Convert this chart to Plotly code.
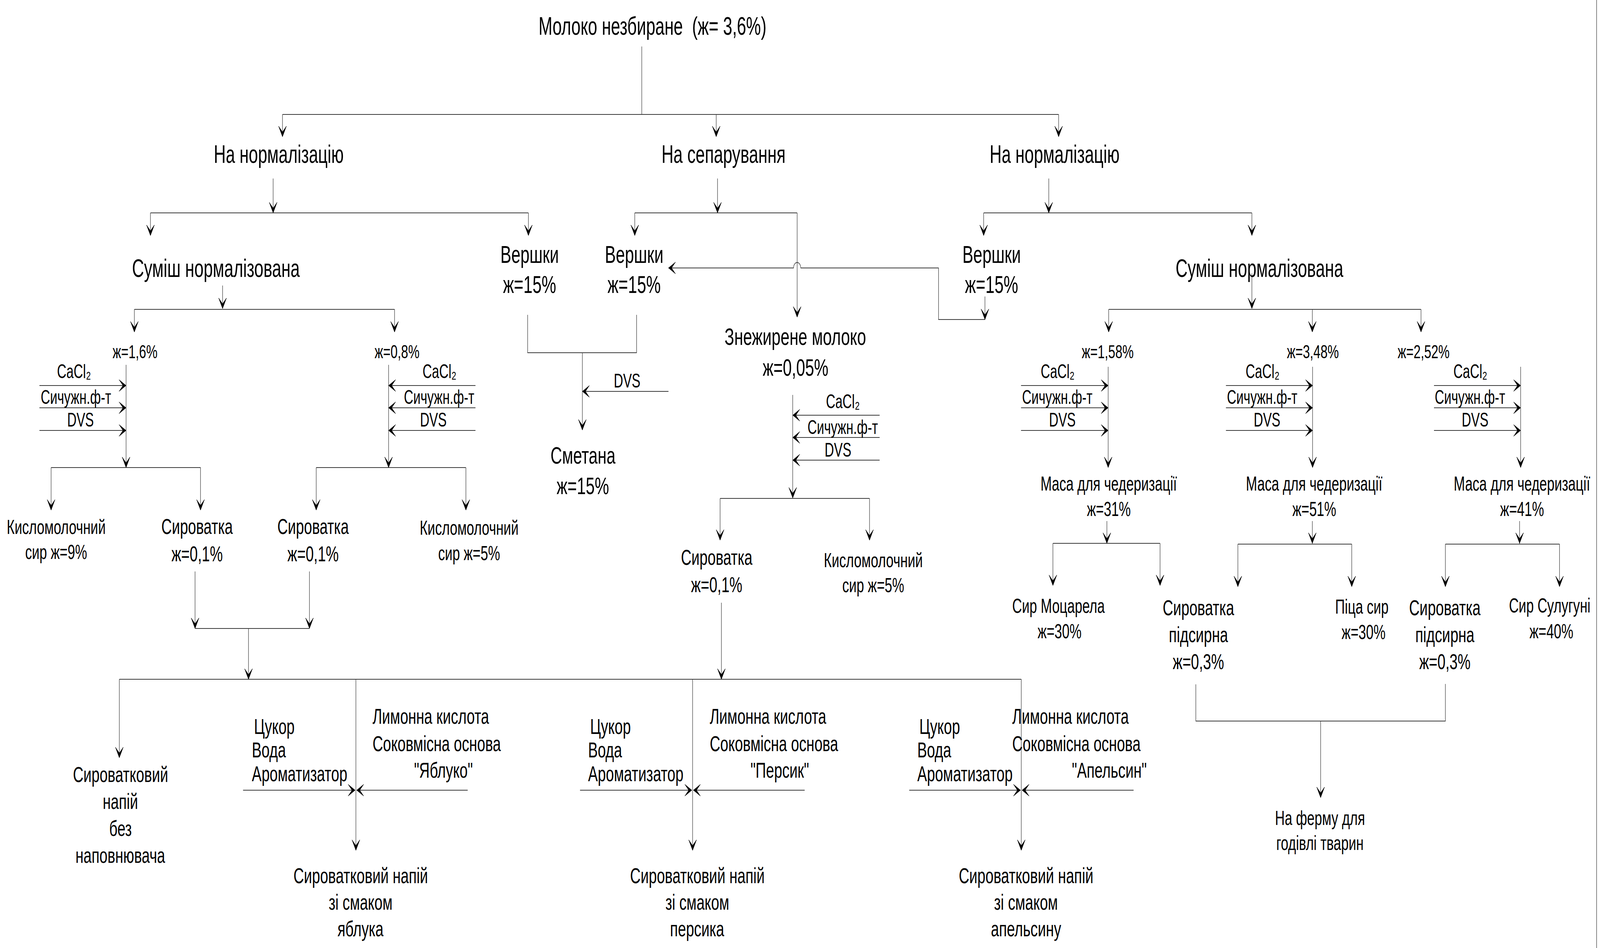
import numpy as np
import plotly.graph_objects as go

# reference canvas (pixels)
W, H = 6168, 2427
FONT = "Liberation Sans, Arial, DejaVu Sans, sans-serif"

# ---------------- labels (data) ----------------
title = ["Молоко незбиране\u00a0 (ж= 3,6%)"]
level1 = ["На нормалізацію", "На сепарування", "На нормалізацію"]
level2 = ["Суміш нормалізована", "Вершки", "ж=15%", "Вершки", "ж=15%",
          "Вершки", "ж=15%", "Суміш нормалізована", "Знежирене молоко", "ж=0,05%",
          "Сметана", "ж=15%"]
fat_split = ["ж=1,6%", "ж=0,8%", "ж=1,58%", "ж=3,48%", "ж=2,52%"]
additives = ["CaCl\u2082", "Сичужн.ф-т", "DVS"]
products = ["Кисломолочний", "сир ж=9%", "Сироватка", "ж=0,1%", "Сироватка", "ж=0,1%",
            "Кисломолочний", "сир ж=5%", "Сироватка", "ж=0,1%", "Кисломолочний", "сир ж=5%",
            "Маса для чедеризації", "ж=31%", "Маса для чедеризації", "ж=51%",
            "Маса для чедеризації", "ж=41%",
            "Сир Моцарела", "ж=30%", "Сироватка", "підсирна", "ж=0,3%",
            "Піца сир", "ж=30%", "Сироватка", "підсирна", "ж=0,3%", "Сир Сулугуні", "ж=40%",
            "На ферму для", "годівлі тварин"]
drinks = ["Сироватковий", "напій", "без", "наповнювача",
          "Сироватковий напій", "зі смаком", "яблука",
          "Сироватковий напій", "зі смаком", "персика",
          "Сироватковий напій", "зі смаком", "апельсину"]
sweet = ["Цукор", "Вода", "Ароматизатор"]
juice_lines = ["Лимонна кислота", "Соковмісна основа"]
flavours = ['"Яблуко"', '"Персик"', '"Апельсин"']
extra_dvs = ["DVS"]

# ---------------- layout positions (reference pixel space) ----------------
title_pos = [(2515, 67, 64)]
level1_pos = [(1074, 395, 64), (2789, 395, 64), (4065, 395, 64)]
level2_pos = [(832, 687, 64), (2041, 651, 63), (2041, 728, 63), (2444, 651, 63), (2444, 728, 63),
              (3822, 651, 63), (3822, 728, 63), (4855, 687, 64), (3066, 861, 62), (3066, 940, 62),
              (2247, 1165, 62), (2247, 1243, 62)]
fat_pos = [(520, 900, 49), (1530, 900, 49), (4270, 900, 49), (5061, 900, 49), (5488, 900, 49)]
add_groups = [(285, 292, 310, 951), (1694, 1692, 1670, 951), (3249, 3248, 3230, 1028),
              (4077, 4075, 4095, 951), (4867, 4865, 4884, 951), (5668, 5666, 5686, 951)]
add_dy = [0, 66, 124]
prod_pos = [(216, 1349, 52), (216, 1413, 52), (760, 1347, 56), (760, 1417, 56),
            (1207, 1347, 56), (1207, 1417, 56),
            (1808, 1351, 52), (1808, 1416, 52), (2763, 1426, 56), (2763, 1496, 56),
            (3366, 1434, 52), (3366, 1498, 52),
            (4274, 1238, 52), (4274, 1303, 52), (5066, 1238, 52), (5066, 1303, 52),
            (5867, 1238, 52), (5867, 1303, 52),
            (4080, 1551, 52), (4084, 1616, 52), (4620, 1555, 56), (4620, 1624, 56), (4620, 1693, 56),
            (5250, 1553, 52), (5256, 1618, 52), (5570, 1555, 56), (5570, 1624, 56), (5570, 1693, 56),
            (5974, 1550, 52), (5980, 1616, 52),
            (5088, 2094, 52), (5088, 2158, 52)]
drink_pos = [(464, 1982, 56), (464, 2051, 56), (464, 2120, 56), (464, 2189, 56),
             (1390, 2241, 56), (1390, 2309, 56), (1390, 2377, 56),
             (2688, 2241, 56), (2688, 2309, 56), (2688, 2377, 56),
             (3955, 2241, 56), (3955, 2309, 56), (3955, 2377, 56)]
sweet_left = [969, 2265, 3534]
sweet_y = [1859, 1919, 1980]
juice_left = [1434, 2734, 3900]
juice_y = [1833, 1903]
flavour_pos = [(1709, 1971), (3006, 1971), (4276, 1971)]
extra_dvs_pos = [(2417, 975, 50)]

# ---------------- connectors ----------------
hop = [(3073 + 14 * np.cos(t), 686 - 14 * np.sin(t)) for t in np.linspace(0, np.pi, 13)]
polylines = [
    [(2474, 119), (2474, 293)], [(1089, 293), (4081, 293)],
    [(1089, 293), (1089, 350)], [(2761, 293), (2761, 350)], [(4081, 293), (4081, 350)],
    [(1053, 457), (1053, 545)], [(580, 545), (2037, 545)],
    [(580, 545), (580, 603)], [(2037, 545), (2037, 603)],
    [(2766, 457), (2766, 545)], [(2447, 545), (3073, 545)], [(2447, 545), (2447, 603)],
    [(3073, 545), (3073, 812)],
    [(4043, 457), (4043, 545)], [(3792, 545), (4826, 545)],
    [(3792, 545), (3792, 603)], [(4826, 545), (4826, 603)],
    [(3797, 759), (3797, 818), (3618, 818), (3618, 686)] + hop + [(2577, 686)],
    [(2034, 806), (2034, 903), (2454, 903), (2454, 806)], [(2245, 903), (2245, 1101)],
    [(2577, 1002), (2245, 1002)],
    [(858, 731), (858, 790)], [(518, 792), (1521, 792)],
    [(518, 792), (518, 850)], [(1521, 792), (1521, 850)],
    [(486, 934), (486, 1197)], [(197, 1197), (773, 1197)],
    [(197, 1197), (197, 1306)], [(773, 1197), (773, 1306)],
    [(1498, 934), (1498, 1197)], [(1219, 1197), (1796, 1197)],
    [(1219, 1197), (1219, 1306)], [(1796, 1197), (1796, 1306)],
    [(752, 1463), (752, 1609)], [(1193, 1463), (1193, 1609)], [(752, 1609), (1193, 1609)],
    [(958, 1609), (958, 1739)],
    [(460, 1739), (3937, 1739)], [(2781, 1543), (2781, 1739)],
    [(460, 1739), (460, 1940)], [(1372, 1739), (1372, 2177)],
    [(2670, 1739), (2670, 2177)], [(3937, 1739), (3937, 2177)],
    [(937, 2023), (1369, 2023)], [(1803, 2023), (1375, 2023)],
    [(2236, 2023), (2667, 2023)], [(3102, 2023), (2673, 2023)],
    [(3505, 2023), (3934, 2023)], [(4370, 2023), (3940, 2023)],
    [(3056, 1011), (3056, 1275)], [(2776, 1276), (3352, 1276)],
    [(2776, 1276), (2776, 1383)], [(3352, 1276), (3352, 1383)],
    [(4826, 700), (4826, 790)], [(4274, 792), (5478, 792)],
    [(4274, 792), (4274, 850)], [(5059, 792), (5059, 850)], [(5478, 792), (5478, 850)],
    [(4272, 939), (4272, 1197)], [(4267, 1334), (4267, 1391)], [(4059, 1391), (4472, 1391)],
    [(4059, 1391), (4059, 1499)], [(4472, 1391), (4472, 1499)],
    [(5060, 939), (5060, 1197)], [(5059, 1334), (5059, 1393)], [(4772, 1393), (5211, 1393)],
    [(4772, 1393), (4772, 1502)], [(5211, 1393), (5211, 1502)],
    [(5862, 939), (5862, 1197)], [(5858, 1334), (5858, 1393)], [(5572, 1393), (6012, 1393)],
    [(5572, 1393), (5572, 1502)], [(6012, 1393), (6012, 1502)],
    [(4610, 1752), (4610, 1846), (5572, 1846), (5572, 1751)], [(5091, 1846), (5091, 2042)],
    [(6155, 0), (6155, H)],
]
add_y = [987, 1044, 1102]
add_y_mid = [1063, 1120, 1178]
for (x0, x1) in [(152, 486), (1833, 1498), (3936, 4272), (4726, 5060), (5528, 5862)]:
    for yy in add_y:
        polylines.append([(x0, yy), (x1, yy)])
for yy in add_y_mid:
    polylines.append([(3391, yy), (3056, yy)])

arrows = [(1089, 350, "d"), (2761, 350, "d"), (4081, 350, "d"),
          (1053, 545, "d"), (580, 603, "d"), (2037, 603, "d"),
          (2766, 545, "d"), (2447, 603, "d"), (3073, 812, "d"),
          (4043, 545, "d"), (3792, 603, "d"), (4826, 603, "d"),
          (3797, 818, "d"), (2577, 686, "l"),
          (2245, 1101, "d"), (2245, 1002, "l"),
          (858, 790, "d"), (518, 850, "d"), (1521, 850, "d"),
          (486, 1197, "d"), (197, 1306, "d"), (773, 1306, "d"),
          (1498, 1197, "d"), (1219, 1306, "d"), (1796, 1306, "d"),
          (752, 1609, "d"), (1193, 1609, "d"), (958, 1739, "d"), (2781, 1739, "d"),
          (460, 1940, "d"), (1372, 2177, "d"), (2670, 2177, "d"), (3937, 2177, "d"),
          (1369, 2023, "r"), (1375, 2023, "l"), (2667, 2023, "r"), (2673, 2023, "l"),
          (3934, 2023, "r"), (3940, 2023, "l"),
          (3056, 1275, "d"), (2776, 1383, "d"), (3352, 1383, "d"),
          (4826, 790, "d"), (4274, 850, "d"), (5059, 850, "d"), (5478, 850, "d"),
          (4272, 1197, "d"), (4267, 1391, "d"), (4059, 1499, "d"), (4472, 1499, "d"),
          (5060, 1197, "d"), (5059, 1391, "d"), (4772, 1502, "d"), (5211, 1502, "d"),
          (5862, 1197, "d"), (5858, 1391, "d"), (5572, 1502, "d"), (6012, 1502, "d"),
          (5091, 2042, "d")]
for yy in add_y:
    arrows += [(486, yy, "r"), (1498, yy, "l"), (4272, yy, "r"), (5060, yy, "r"), (5862, yy, "r")]
for yy in add_y_mid:
    arrows.append((3056, yy, "l"))

# ---------------- build figure ----------------
lx, ly = [], []
for pl in polylines:
    for (px, py) in pl:
        lx.append(px); ly.append(py)
    lx.append(None); ly.append(None)

DIRS = {"d": (0, 1), "u": (0, -1), "l": (-1, 0), "r": (1, 0)}
L, HW, NOTCH = 27, 15, 12
ax_, ay_ = [], []
for (tx, ty, d) in arrows:
    ux, uy = DIRS[d]
    px, py = -uy, ux
    local = [(0, 0), (-L, HW), (-NOTCH, 0), (-L, -HW), (0, 0)]
    for a, b in local:
        ax_.append(tx + a * ux + b * px)
        ay_.append(ty + a * uy + b * py)
    ax_.append(None); ay_.append(None)

fig = go.Figure()
fig.add_trace(go.Scatter(x=lx, y=ly, mode="lines", line=dict(color="#3a3a3a", width=1.8),
                         hoverinfo="skip", showlegend=False))
fig.add_trace(go.Scatter(x=ax_, y=ay_, mode="lines", fill="toself", fillcolor="#000000",
                         line=dict(color="#000000", width=1), hoverinfo="skip",
                         showlegend=False))

anns = []


def txt(s, x, y, size, anchor="center"):
    anns.append(dict(text=s, x=x, y=y, xref="x", yref="y", showarrow=False,
                     xanchor=anchor, yanchor="middle",
                     font=dict(family=FONT, size=size, color="#000000")))


for s, (x, y, sz) in zip(title, title_pos):
    txt(s, x, y, sz)
for s, (x, y, sz) in zip(level1, level1_pos):
    txt(s, x, y, sz)
for s, (x, y, sz) in zip(level2, level2_pos):
    txt(s, x, y, sz)
for s, (x, y, sz) in zip(fat_split, fat_pos):
    txt(s, x, y, sz)
for g in add_groups:
    for i, s in enumerate(additives):
        txt(s, g[i], g[3] + add_dy[i], 50)
for s, (x, y, sz) in zip(extra_dvs, extra_dvs_pos):
    txt(s, x, y, sz)
for s, (x, y, sz) in zip(products, prod_pos):
    txt(s, x, y, sz)
for s, (x, y, sz) in zip(drinks, drink_pos):
    txt(s, x, y, sz)
for xl in sweet_left:
    for i, s in enumerate(sweet):
        txt(s, xl + (8 if i == 0 else 0), sweet_y[i], 56, "left")
for j, xl in enumerate(juice_left):
    for i, s in enumerate(juice_lines):
        txt(s, xl, juice_y[i], 56, "left")
    txt(flavours[j], flavour_pos[j][0], flavour_pos[j][1], 56)

fig.update_layout(width=W, height=H, margin=dict(l=0, r=0, t=0, b=0),
                  paper_bgcolor="white", plot_bgcolor="white", annotations=anns,
                  xaxis=dict(range=[0, W], visible=False, fixedrange=True),
                  yaxis=dict(range=[H, 0], visible=False, fixedrange=True),
                  showlegend=False)

# the viewer window may be narrower than the 6168 px canvas: fit the page to the window
fit_js = """
document.documentElement.style.overflow='hidden';
document.body.style.margin='0';
document.body.style.overflow='hidden';
var gd=document.getElementById('{plot_id}');
var sx=Math.min(1, window.innerWidth/%d), sy=Math.min(1, window.innerHeight/%d);
gd.style.transformOrigin='0 0';
gd.style.transform='scale('+sx+','+sy+')';
""" % (W, H)
fig.write_html("out.html", config={"displayModeBar": False}, post_script=fit_js)
